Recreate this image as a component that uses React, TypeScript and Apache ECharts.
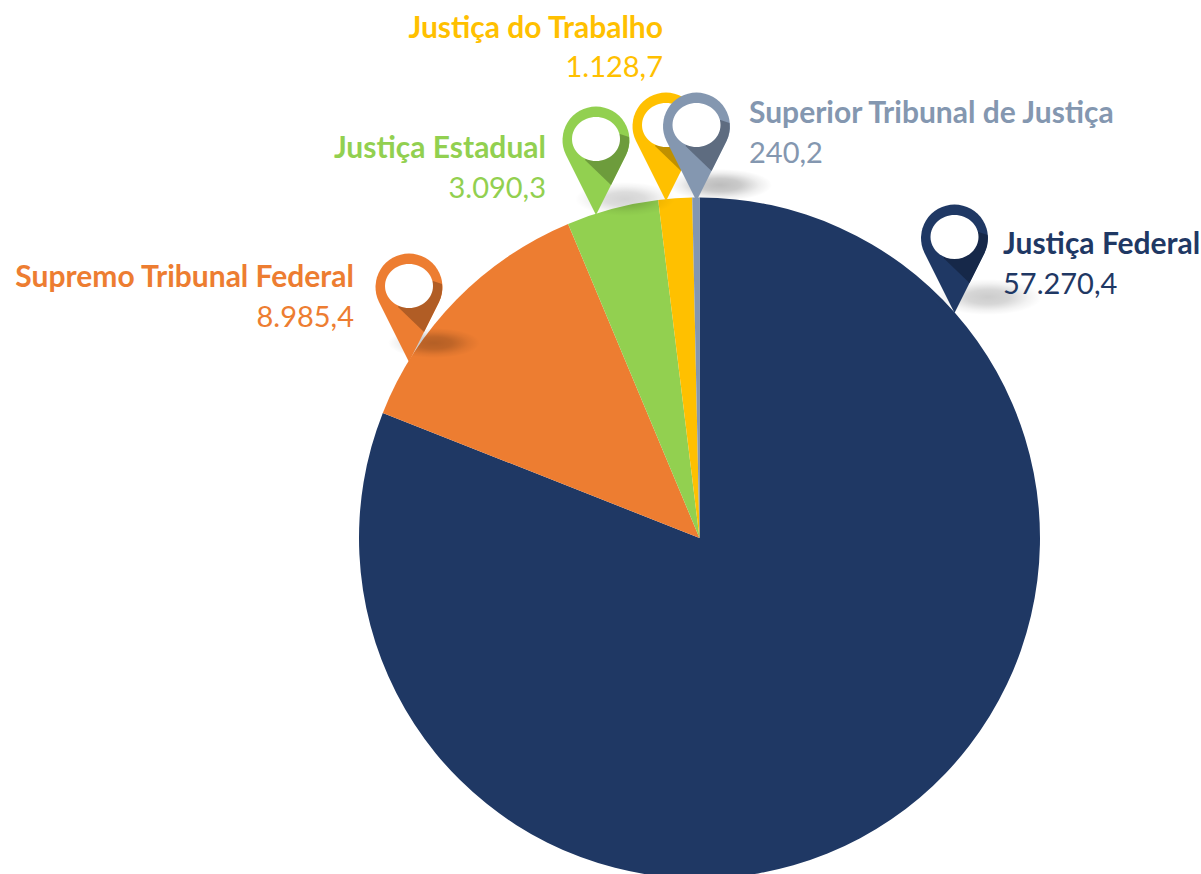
import React, { useEffect, useRef } from "react";
import * as echarts from "echarts";

const categories = ["Justiça Federal", "Supremo Tribunal Federal", "Justiça Estadual", "Justiça do Trabalho", "Superior Tribunal de Justiça"];
const values = [57270.4, 8985.4, 3090.3, 1128.7, 240.2];

const colors = ["#1F3864", "#ED7D31", "#92D050", "#FFC000", "#8497B0"];
const darkColors = ["#162849", "#B15D25", "#6D9C3C", "#BF9000", "#5E6C80"];

// pin centre, text anchor, shadow blob
const layout = [
  { px: 954.5, py: 238, tx: 1003, align: "left", y1: 242, y2: 282, sx: 988, sy: 297, srx: 54, sry: 18, sa: 0.2 },
  { px: 409, py: 287, tx: 354, align: "right", y1: 275, y2: 315, sx: 434, sy: 343, srx: 46, sry: 15, sa: 0.24 },
  { px: 596, py: 140, tx: 546, align: "right", y1: 146, y2: 186, sx: 625, sy: 199, srx: 50, sry: 17, sa: 0.17 },
  { px: 666, py: 126, tx: 663, align: "right", y1: 26, y2: 65, sx: 0, sy: 0, srx: 0, sry: 0, sa: 0 },
  { px: 696.5, py: 126, tx: 749, align: "left", y1: 111, y2: 151, sx: 720, sy: 185, srx: 52, sry: 16, sa: 0.26 },
];
const drawOrder = [1, 0, 2, 3, 4];

const FONT = "Lato, Carlito, sans-serif";
const fmt = (v: number) => v.toLocaleString("pt-BR", { minimumFractionDigits: 1, maximumFractionDigits: 1 });

echarts.graphic.registerShape("mapPin", echarts.graphic.extendPath(
  "M -30 15 A 33.5 33.5 0 1 1 30 15 L 0 75 Z", {}
) as any);
echarts.graphic.registerShape("mapPinFold", echarts.graphic.extendPath(
  "M 0 0 L 24 -6 L 33 -3 A 33.5 33.5 0 0 1 30 15 L 15 45 L -11 20 Z", {}
) as any);

export default function App() {
  const ref = useRef<HTMLDivElement>(null);
  useEffect(() => {
    document.body.style.margin = "0";
    const chart = echarts.init(ref.current!, undefined, { renderer: "svg" });
    const graphics: any[] = [];
    drawOrder.forEach((i) => {
      const l = layout[i];
      if (l.sa > 0) {
        graphics.push({
          type: "ellipse", z: 5, silent: true,
          shape: { cx: l.sx, cy: l.sy, rx: l.srx, ry: l.sry },
          style: {
            fill: {
              type: "radial", x: 0.5, y: 0.5, r: 0.5,
              colorStops: [
                { offset: 0, color: `rgba(0,0,0,${l.sa})` },
                { offset: 0.4, color: `rgba(0,0,0,${l.sa * 0.8})` },
                { offset: 0.75, color: `rgba(0,0,0,${l.sa * 0.25})` },
                { offset: 1, color: "rgba(0,0,0,0)" },
              ],
            },
          },
        });
      }
    });
    drawOrder.forEach((i) => {
      const l = layout[i];
      graphics.push(
        { type: "mapPin", z: 10, silent: true, x: l.px, y: l.py, style: { fill: colors[i] } },
        { type: "mapPinFold", z: 10, silent: true, x: l.px, y: l.py, style: { fill: darkColors[i] } },
        { type: "ellipse", z: 10, silent: true, shape: { cx: l.px, cy: l.py - 1, rx: 24, ry: 22 }, style: { fill: "#ffffff" } },
      );
    });
    categories.forEach((name, i) => {
      const l = layout[i];
      graphics.push(
        { type: "text", z: 20, x: l.tx, y: l.y1, style: { text: name, fill: colors[i], font: `bold 30px ${FONT}`, textAlign: l.align, textVerticalAlign: "middle" } },
        { type: "text", z: 20, x: l.tx, y: l.y2, style: { text: fmt(values[i]), fill: colors[i], font: `29px ${FONT}`, textAlign: l.align, textVerticalAlign: "middle" } },
      );
    });
    chart.setOption({
      animation: false,
      backgroundColor: "#ffffff",
      series: [{
        type: "pie",
        center: [699.5, 538],
        radius: [0, 340.5],
        startAngle: 90,
        clockwise: true,
        label: { show: false },
        labelLine: { show: false },
        itemStyle: { borderWidth: 0 },
        data: categories.map((name, i) => ({ name, value: values[i], itemStyle: { color: colors[i] } })),
      }],
      graphic: { elements: graphics },
    });
    return () => chart.dispose();
  }, []);
  return <div ref={ref} style={{ width: 1201, height: 874, overflow: "hidden" }} />;
}
